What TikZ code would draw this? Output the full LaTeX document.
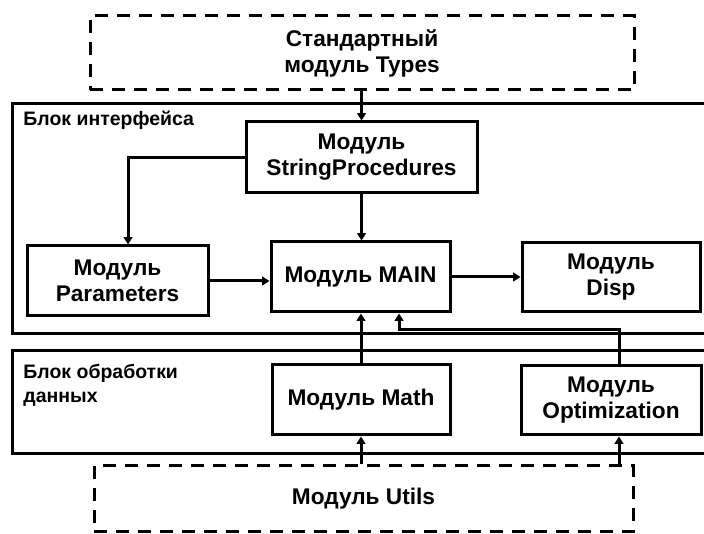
\documentclass[tikz,border=0pt]{standalone}
\usepackage{fontspec}
\setmainfont{Liberation Sans}
\usetikzlibrary{arrows.meta}

\begin{document}
\begin{tikzpicture}[x = 0.75pt, y = -0.75pt, line width = 2.25pt,
	modul/.style = {draw,rectangle,align=center,inner sep=0pt,font=\bfseries\fontsize{17}{19.5}\selectfont},
	extern/.style = {modul,dash pattern=on 9.75pt off 6.75pt},
	blokname/.style = {inner sep=0pt,align=left,font=\bfseries\fontsize{14.6}{18}\selectfont},
	arr/.style = {-{Triangle[length=5.5pt,width=6.5pt]}},]
		\useasboundingbox (0,0) rectangle (704,534);
		\clip (0,0) rectangle (704,534);
		
		\draw (12,104) rectangle (712,334);
		\draw (12,351) rectangle (712,454);
		\node[blokname, anchor=west] (iface) at (22,120) {Блок интерфейса};
		\node[blokname, anchor=north west] (dproc) at (22,363) {Блок обработки\\данных};
		
		\node[extern, minimum width=408pt, minimum height=55.5pt] (types) at (362,53) {Стандартный\\модуль Types};
		\node[modul, minimum width=173.25pt, minimum height=53.25pt] (sp) at (361.5,157.5) {Модуль\\StringProcedures};
		\node[modul, minimum width=135.75pt, minimum height=52.5pt] (params) at (117.5,281) {Модуль\\Parameters};
		\node[modul, minimum width=134.25pt, minimum height=52.5pt] (main) at (360.5,277) {Модуль MAIN};
		\node[modul, minimum width=133.5pt, minimum height=51.75pt] (disp) at (611,277.5) {Модуль\\Disp};
		\node[modul, minimum width=133.5pt, minimum height=52.5pt] (math) at (361,400) {Модуль Math};
		\node[modul, minimum width=135pt, minimum height=51.75pt] (opt) at (611,400.5) {Модуль\\Optimization};
		\node[extern, minimum width=404.25pt, minimum height=49.5pt] (utils) at (363.5,499) {Модуль Utils};
		
		\coordinate (parin) at ([xshift=7.9pt]params.north);
		\coordinate (optin) at ([xshift=6pt]opt.south);
		\coordinate (optout) at ([xshift=6pt]opt.north);
		\coordinate (mainin) at ([xshift=28.9pt]main.south);
		
		\draw[arr] (sp.north |- types.south) -- (sp.north);
		\draw[arr] (sp.west) -| (parin);
		\draw[arr] (sp.south) -- (sp.south |- main.north);
		\draw[arr] (params.east) -- (params.east -| main.west);
		\draw[arr] (main.east) -- (main.east -| disp.west);
		\draw[arr] (math.north) -- (math.north |- main.south);
		\draw[arr] (optout) |- ([yshift=-12pt]mainin) -- (mainin);
		\draw[arr] (math.south |- utils.north) -- (math.south);
		\draw[arr] (optin |- utils.north) -- (optin);
	\end{tikzpicture}
\end{document}
